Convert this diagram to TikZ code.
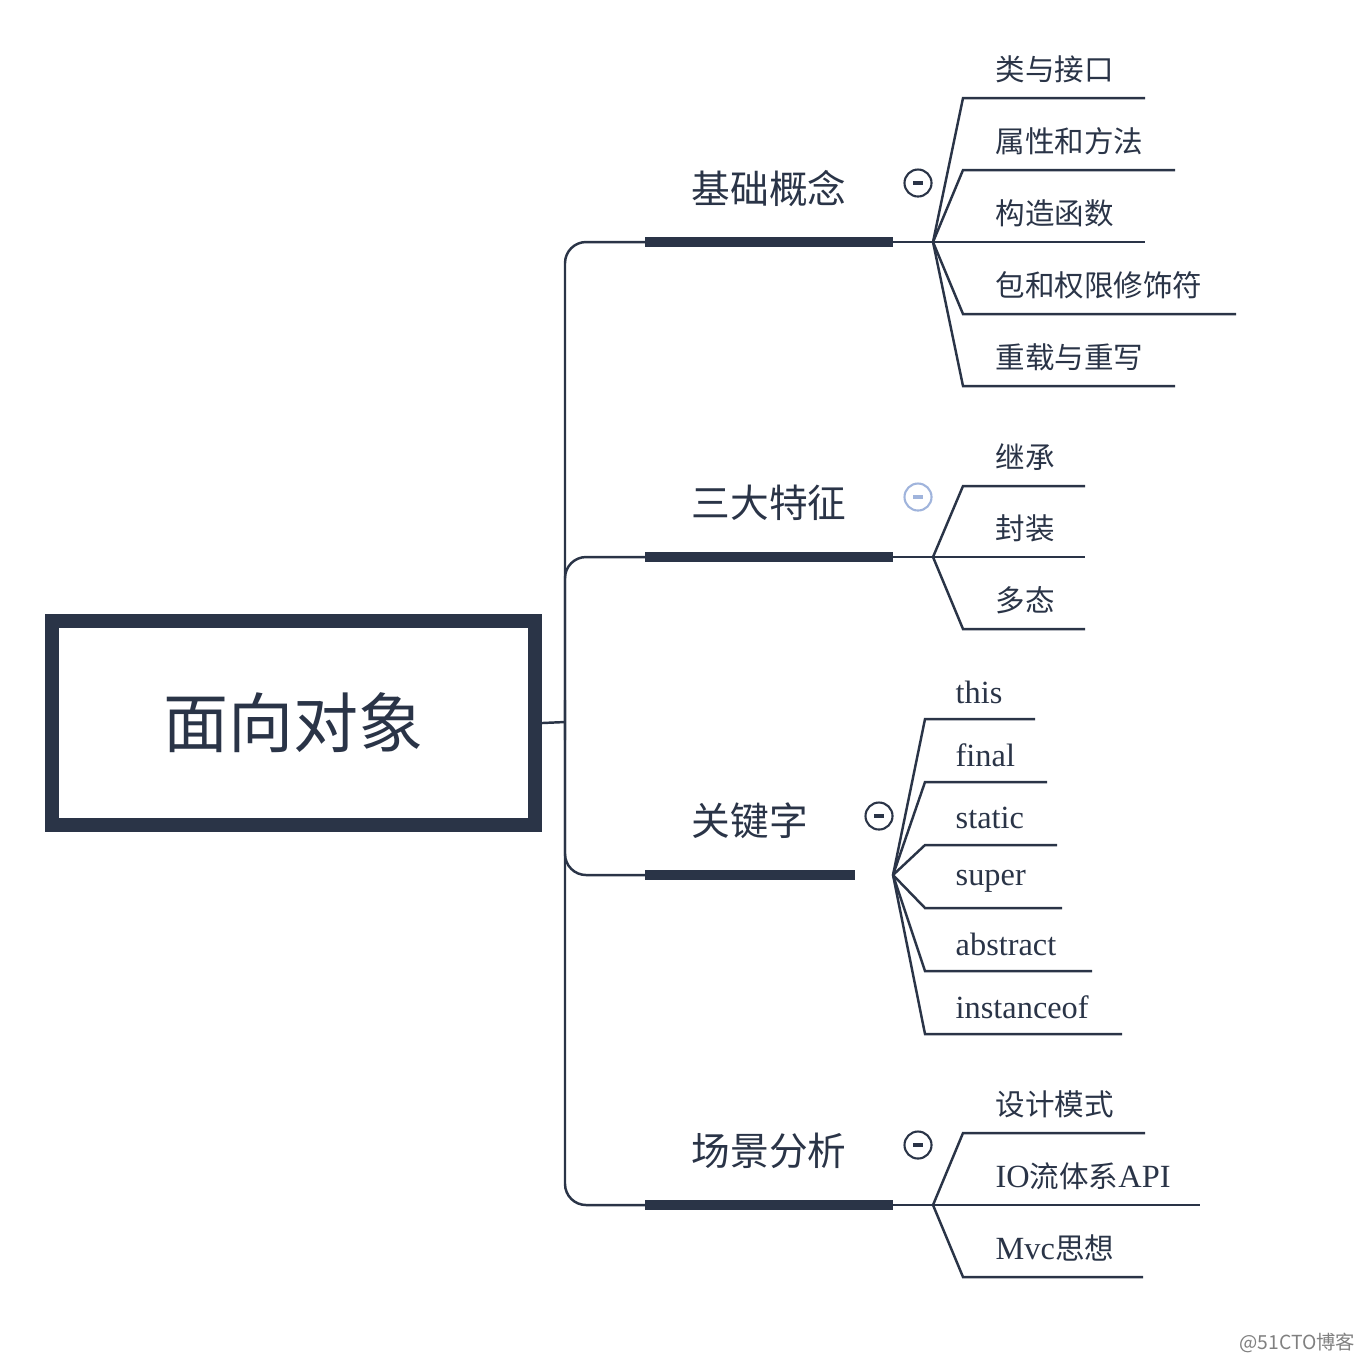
\documentclass[tikz,border=0pt]{standalone}
\usepackage{fontspec}
\setmainfont{Liberation Serif}
\newfontfamily\cjk{Noto Sans CJK SC}
\usetikzlibrary{positioning, calc}
\definecolor{mapdark}{RGB}{42, 52, 71}
\definecolor{mapblue}{RGB}{160, 180, 220}

\begin{document}
\begin{tikzpicture}[
    x=0.01cm, y=-0.01cm,
    line/.style={draw=mapdark, line width=0.7pt},
    bar/.style={draw=mapdark, line width=2.9pt},
    topic/.style={anchor=south, text=mapdark, font=\cjk\fontsize{11pt}{13pt}\selectfont, inner sep=0pt},
    leaf/.style={anchor=west, text=mapdark, font=\fontsize{9.2pt}{10pt}\selectfont, inner sep=0pt},
    fold/.style={circle, draw=mapdark, line width=0.6pt, minimum size=0.27cm, inner sep=0pt}
]
    \useasboundingbox (0,0) rectangle (1364,1362);
    % central topic
    \node[draw=mapdark, line width=4pt, minimum width=4.83cm, minimum height=2.04cm, font=\cjk\fontsize{18.5pt}{20pt}\selectfont, text=mapdark] (root) at (293.5,723) {面向对象};
    \coordinate (spine) at (565,722);
    \draw[line] (root.east) -- (spine);
    \draw[line, rounded corners=6pt] (645,242) -- (565,242) -- (565,1205) -- (645,1205);
    \draw[line, rounded corners=6pt] (645,557) -- (565,557) -- (565,740);
    \draw[line, rounded corners=6pt] (645,875) -- (565,875) -- (565,700);

    % main branches
    \draw[bar] (645,242) -- (893,242) coordinate (b1);
    \draw[bar] (645,557) -- (893,557) coordinate (b2);
    \draw[bar] (645,875) -- (855,875) coordinate (b3);
    \draw[bar] (645,1205) -- (893,1205) coordinate (b4);
    \node[topic] (t1) at (769,207) {基础概念};
    \node[topic] (t2) at (769,521) {三大特征};
    \node[topic] (t3) at (750,839) {关键字};
    \node[topic] (t4) at (769,1169) {场景分析};
    \node[fold] (f1) at (918,183) {};
    \node[fold, draw=mapblue] (f2) at (918,497) {};
    \node[fold] (f3) at (879,816) {};
    \node[fold] (f4) at (918,1145) {};
    \foreach \f/\c in {f1/mapdark, f2/mapblue, f3/mapdark, f4/mapdark}
        \draw[\c, line width=1.1pt] ($(\f)+(-5,0)$) -- ($(\f)+(5,0)$);

    % fan points
    \coordinate (k1) at (933,242);
    \coordinate (k2) at (933,557);
    \coordinate (k3) at (893,875);
    \coordinate (k4) at (933,1205);
    \draw[line] (b1) -- (k1);
    \draw[line] (b2) -- (k2);
    \draw[line] (b4) -- (k4);

    % sub topics
    \foreach \i/\y/\e/\txt in {1/98/1145/类与接口, 2/170/1175/属性和方法, 3/242/1145/构造函数, 4/314/1236/包和权限修饰符, 5/386/1175/重载与重写} {
        \draw[line] (k1) -- (963,\y) -- (\e,\y);
        \node[leaf, font=\cjk\fontsize{8.4pt}{10pt}\selectfont] (a\i) at (995,\y-29) {\txt};
    }
    \foreach \i/\y/\txt in {1/486/继承, 2/557/封装, 3/629/多态} {
        \draw[line] (k2) -- (963,\y) -- (1085,\y);
        \node[leaf, font=\cjk\fontsize{8.4pt}{10pt}\selectfont] (s\i) at (995,\y-29) {\txt};
    }
    \foreach \i/\y/\e/\txt in {1/719/1035/this, 2/782/1047/final, 3/845/1057/static, 4/908/1062/super, 5/971/1092/abstract, 6/1034/1122/instanceof} {
        \draw[line] (k3) -- (925,\y) -- (\e,\y);
        \node[leaf] (w\i) at (955,\y-27) {\txt};
    }
    \draw[line] (k4) -- (963,1133) -- (1145,1133);
    \draw[line] (k4) -- (1200,1205);
    \draw[line] (k4) -- (963,1277) -- (1143,1277);
    \node[leaf, font=\cjk\fontsize{8.4pt}{10pt}\selectfont] (p1) at (995,1104) {设计模式};
    \node[leaf] (p2) at (995,1176) {IO{\cjk\fontsize{8.4pt}{10pt}\selectfont 流体系}API};
    \node[leaf] (p3) at (995,1248) {Mvc{\cjk\fontsize{8.4pt}{10pt}\selectfont 思想}};

    \node[anchor=east, text=gray, font=\cjk\fontsize{5.5pt}{6pt}\selectfont, inner sep=0pt] (mark) at (1356,1343) {@51CTO博客};
\end{tikzpicture}
\end{document}
